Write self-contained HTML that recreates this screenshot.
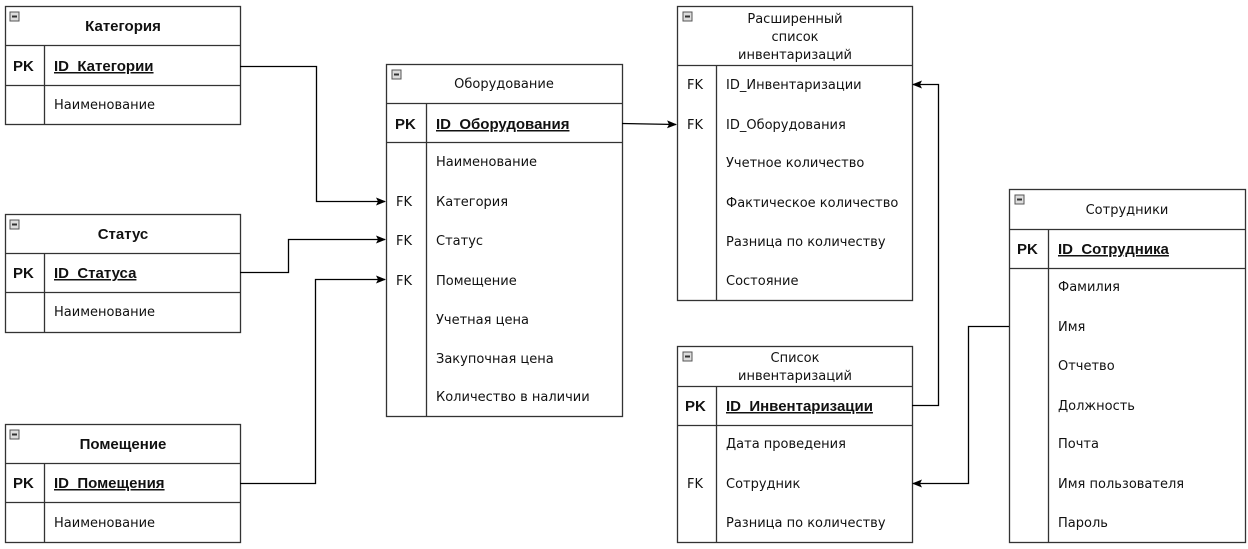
<!DOCTYPE html>
<html><head><meta charset="utf-8"><style>
html,body{margin:0;padding:0;background:#fff;}
svg{display:block;font-family:"DejaVu Sans","Liberation Sans",sans-serif;font-size:13px;}
.b{font-family:"Liberation Sans",sans-serif;font-size:15px;font-weight:bold;}
</style></head><body>
<svg width="1248" height="549" viewBox="0 0 1248 549" xmlns="http://www.w3.org/2000/svg">
<defs>
<marker id="a" markerWidth="10" markerHeight="8" refX="9" refY="4" orient="auto" markerUnits="userSpaceOnUse">
<path d="M0,0 L10,4 L0,8 L2,4 z" fill="#000"/></marker>
<g id="ic"><rect x="0" y="0" width="9" height="9" fill="#ddd" stroke="#555" stroke-width="1"/><line x1="2" y1="4.5" x2="7" y2="4.5" stroke="#333" stroke-width="2"/></g>
</defs>
<g fill="none" stroke="#333" stroke-width="1.3">
<rect x="5.5" y="6.5" width="235" height="118"/><line x1="5" y1="45.5" x2="240" y2="45.5"/><line x1="5" y1="85.5" x2="240" y2="85.5"/><line x1="44.5" y1="45" x2="44.5" y2="124"/>
<rect x="5.5" y="214.5" width="235" height="118"/><line x1="5" y1="253.5" x2="240" y2="253.5"/><line x1="5" y1="292.5" x2="240" y2="292.5"/><line x1="44.5" y1="253" x2="44.5" y2="332"/>
<rect x="5.5" y="424.5" width="235" height="118"/><line x1="5" y1="463.5" x2="240" y2="463.5"/><line x1="5" y1="502.5" x2="240" y2="502.5"/><line x1="44.5" y1="463" x2="44.5" y2="542"/>
<rect x="386.5" y="64.5" width="236" height="352"/><line x1="386" y1="103.5" x2="622" y2="103.5"/><line x1="386" y1="142.5" x2="622" y2="142.5"/><line x1="426.5" y1="103" x2="426.5" y2="416"/>
<rect x="677.5" y="6.5" width="235" height="294"/><line x1="677" y1="65.5" x2="912" y2="65.5"/><line x1="716.5" y1="65" x2="716.5" y2="300"/>
<rect x="677.5" y="346.5" width="235" height="196"/><line x1="677" y1="386.5" x2="912" y2="386.5"/><line x1="677" y1="425.5" x2="912" y2="425.5"/><line x1="716.5" y1="386" x2="716.5" y2="542"/>
<rect x="1009.5" y="189.5" width="236" height="353"/><line x1="1009" y1="229.5" x2="1245" y2="229.5"/><line x1="1009" y1="268.5" x2="1245" y2="268.5"/><line x1="1048.5" y1="229" x2="1048.5" y2="542"/>
</g>
<g fill="none" stroke="#000" stroke-width="1.3">
<polyline points="240,66.5 316.5,66.5 316.5,201.5 385,201.5" marker-end="url(#a)"/>
<polyline points="240,272.5 288.5,272.5 288.5,239.5 385,239.5" marker-end="url(#a)"/>
<polyline points="240,483.5 315.5,483.5 315.5,279.5 385,279.5" marker-end="url(#a)"/>
<polyline points="622,123.5 676,124.5" marker-end="url(#a)"/>
<polyline points="912,405.5 938.5,405.5 938.5,84.5 913,84.5" marker-end="url(#a)"/>
<polyline points="1009,326.5 968.5,326.5 968.5,483.5 913,483.5" marker-end="url(#a)"/>
</g>
<use href="#ic" x="10" y="12"/><use href="#ic" x="10" y="220"/><use href="#ic" x="10" y="430"/>
<use href="#ic" x="392" y="70"/><use href="#ic" x="683" y="12"/><use href="#ic" x="683" y="352"/><use href="#ic" x="1015" y="195"/>
<g fill="#111">
<g class="b" text-anchor="middle">
<text x="123" y="31">Категория</text><text x="123" y="239">Статус</text><text x="123" y="449">Помещение</text>
</g>
<g class="b">
<text x="13" y="71">PK</text><text x="13" y="278">PK</text><text x="13" y="488">PK</text>
<text x="395" y="129">PK</text><text x="685" y="411">PK</text><text x="1017" y="254">PK</text>
<text x="54" y="71" text-decoration="underline">ID_Категории</text>
<text x="54" y="278" text-decoration="underline">ID_Статуса</text>
<text x="54" y="488" text-decoration="underline">ID_Помещения</text>
<text x="436" y="129" text-decoration="underline">ID_Оборудования</text>
<text x="726" y="411" text-decoration="underline">ID_Инвентаризации</text>
<text x="1058" y="254" text-decoration="underline">ID_Сотрудника</text>
</g>
<g text-anchor="middle">
<text x="504" y="88">Оборудование</text>
<text x="795" y="23">Расширенный</text><text x="795" y="41">список</text><text x="795" y="59">инвентаризаций</text>
<text x="795" y="362">Список</text><text x="795" y="380">инвентаризаций</text>
<text x="1127" y="214">Сотрудники</text>
</g>
<text x="54" y="109">Наименование</text><text x="54" y="316">Наименование</text><text x="54" y="527">Наименование</text>
<text x="436" y="166">Наименование</text>
<text x="396" y="206">FK</text><text x="436" y="206">Категория</text>
<text x="396" y="245">FK</text><text x="436" y="245">Статус</text>
<text x="396" y="285">FK</text><text x="436" y="285">Помещение</text>
<text x="436" y="324">Учетная цена</text><text x="436" y="363">Закупочная цена</text><text x="436" y="401">Количество в наличии</text>
<text x="687" y="89">FK</text><text x="726" y="89">ID_Инвентаризации</text>
<text x="687" y="129">FK</text><text x="726" y="129">ID_Оборудования</text>
<text x="726" y="167">Учетное количество</text><text x="726" y="207">Фактическое количество</text>
<text x="726" y="246">Разница по количеству</text><text x="726" y="285">Состояние</text>
<text x="726" y="448">Дата проведения</text>
<text x="687" y="488">FK</text><text x="726" y="488">Сотрудник</text>
<text x="726" y="527">Разница по количеству</text>
<text x="1058" y="291">Фамилия</text><text x="1058" y="331">Имя</text><text x="1058" y="370">Отчетво</text>
<text x="1058" y="410">Должность</text><text x="1058" y="448">Почта</text><text x="1058" y="488">Имя пользователя</text><text x="1058" y="527">Пароль</text>
</g>
</svg>
</body></html>
